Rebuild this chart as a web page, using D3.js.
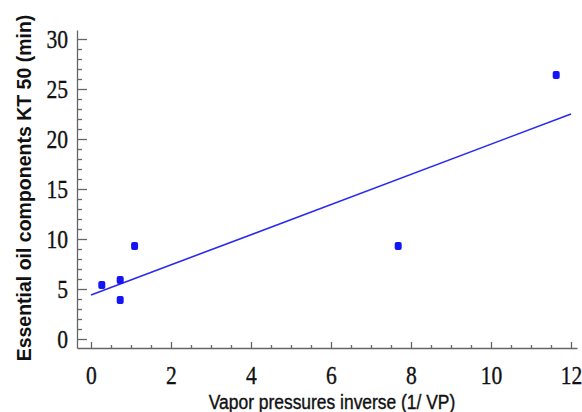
<!DOCTYPE html>
<html>
<head>
<meta charset="utf-8">
<script src="https://cdn.jsdelivr.net/npm/d3@7"></script>
<style>
  body { margin: 0; background: #fff; }
  svg { display: block; }
</style>
</head>
<body>
<svg id="chart" width="582" height="412"></svg>
<script>
// data
var vpInverse = [0.27, 0.73, 0.73, 1.09, 7.68, 11.63];
var kt50 = [5.4, 5.9, 3.9, 9.3, 9.3, 26.4];
// fitted straight line, its two ends
var fitX = [0, 12];
var fitY = [4.4, 22.5];
var xTicks = [0, 2, 4, 6, 8, 10, 12];
var yTicks = [0, 5, 10, 15, 20, 25, 30];

var svg = d3.select("#chart");
var squash = 0.83; // text in the picture is a bit narrow

var x = d3.scaleLinear().domain([-0.35, 12.15]).range([77, 577]);
var y = d3.scaleLinear().domain([-0.9, 30.9]).range([348, 30]);

var axisColor = "#666";

// minor ticks first
var xMinor = d3.range(0, 12.01, 0.5).filter(function(d) { return d % 2 != 0; });
var yMinor = d3.range(0, 30.01, 1).filter(function(d) { return d % 5 != 0; });

svg.append("g")
  .attr("transform", "translate(0,348)")
  .call(d3.axisBottom(x).tickValues(xMinor).tickFormat("").tickSize(-3).tickSizeOuter(0))
  .call(function(g) { g.select(".domain").remove(); });

svg.append("g")
  .attr("transform", "translate(77,0)")
  .call(d3.axisLeft(y).tickValues(yMinor).tickFormat("").tickSize(-5).tickSizeOuter(0))
  .call(function(g) { g.select(".domain").remove(); });

var gx = svg.append("g")
  .attr("transform", "translate(0,348)")
  .call(d3.axisBottom(x).tickValues(xTicks).tickSize(-6).tickSizeOuter(0).tickPadding(18));

var gy = svg.append("g")
  .attr("transform", "translate(77,0)")
  .call(d3.axisLeft(y).tickValues(yTicks).tickSize(-10).tickSizeOuter(0).tickPadding(0));

svg.selectAll(".tick line, .domain").attr("stroke", axisColor).attr("stroke-width", 1.3);

svg.selectAll(".tick text")
  .attr("fill", "#111")
  .attr("stroke", "#111")
  .attr("stroke-width", 0.35)
  .style("font-family", "'Liberation Serif', 'Times New Roman', serif")
  .style("font-size", "26px")
  .attr("transform", "scale(" + squash + ",1)");

gy.selectAll(".tick text")
  .attr("x", -9 / squash)
  .attr("dy", "0.34em");

// regression line
var line = d3.line()
  .x(function(d) { return x(d[0]); })
  .y(function(d) { return y(d[1]); });

svg.append("path")
  .datum(d3.zip(fitX, fitY))
  .attr("d", line)
  .attr("fill", "none")
  .attr("stroke", "#2a2aee")
  .attr("stroke-width", 1.6);

// points
svg.selectAll("rect.pt")
  .data(d3.zip(vpInverse, kt50))
  .enter().append("rect")
  .attr("class", "pt")
  .attr("x", function(d) { return x(d[0]) - 3.5; })
  .attr("y", function(d) { return y(d[1]) - 4; })
  .attr("width", 7)
  .attr("height", 8)
  .attr("rx", 2)
  .attr("fill", "#1414f5");

// axis titles
svg.append("text")
  .attr("transform", "translate(332,409) scale(" + squash + ",1)")
  .attr("text-anchor", "middle")
  .style("font-family", "'Liberation Sans', Arial, sans-serif")
  .style("font-size", "21px")
  .attr("fill", "#111")
  .attr("stroke", "#111")
  .attr("stroke-width", 0.4)
  .text("Vapor pressures inverse (1/ VP)");

svg.append("text")
  .attr("transform", "translate(31,188) rotate(-90)")
  .attr("text-anchor", "middle")
  .style("font-family", "'Liberation Sans', Arial, sans-serif")
  .style("font-size", "19.5px")
  .style("font-weight", "bold")
  .attr("fill", "#111")
  .text("Essential oil components KT 50 (min)");
</script>
</body>
</html>
